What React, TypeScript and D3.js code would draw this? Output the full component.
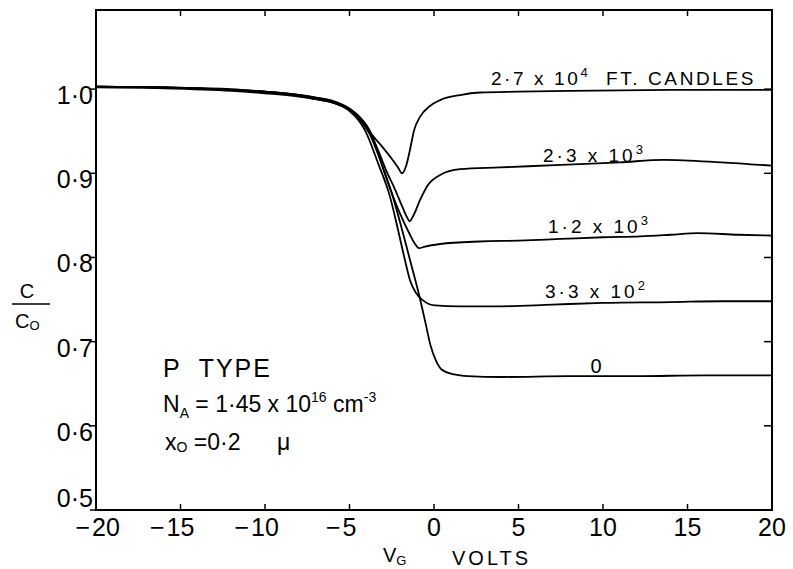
import React from 'react';
import * as d3 from 'd3';

// C/Co vs gate voltage, MOS capacitor under illumination
const xTicks = [-20, -15, -10, -5, 0, 5, 10, 15, 20];
const yTicks = [0.5, 0.6, 0.7, 0.8, 0.9, 1.0];

const dark: [number, number][] = [
  [-20, 1.002], [-16, 1.001], [-12, 0.998], [-10, 0.995], [-8, 0.991], [-7, 0.988],
  [-6, 0.984], [-5, 0.975], [-4.5, 0.966], [-4.0, 0.953], [-3.5, 0.936], [-3.14, 0.914],
  [-2.43, 0.872], [-1.89, 0.833], [-1.42, 0.797], [-0.95, 0.761], [-0.5, 0.722],
  [-0.2, 0.695], [0.15, 0.676], [0.45, 0.667], [1.2, 0.661], [2, 0.659], [4, 0.658],
  [8, 0.659], [12, 0.659], [16, 0.66], [20, 0.66],
];

const light330: [number, number][] = [
  [-20, 1.003], [-16, 1.002], [-12, 0.999], [-10, 0.996], [-8, 0.992], [-7, 0.988],
  [-6, 0.984], [-5, 0.974], [-4.5, 0.964], [-4.08, 0.951], [-3.31, 0.912], [-2.6, 0.872],
  [-2.13, 0.833], [-1.72, 0.797], [-1.42, 0.773], [-1.07, 0.758], [-0.65, 0.749],
  [0.06, 0.743], [1.5, 0.742], [4, 0.742], [7, 0.744], [10, 0.746], [14, 0.747],
  [17, 0.748], [20, 0.748],
];

const light1200: [number, number][] = [
  [-20, 1.003], [-16, 1.002], [-12, 0.999], [-10, 0.997], [-8, 0.993], [-7, 0.989],
  [-6, 0.985], [-5, 0.976], [-4.5, 0.967], [-4.0, 0.955], [-3.3, 0.922], [-2.6, 0.882],
  [-2.01, 0.852], [-1.42, 0.827], [-1.12, 0.816], [-0.89, 0.811], [-0.53, 0.813],
  [0.36, 0.816], [2.7, 0.819], [5, 0.82], [7.5, 0.822], [10, 0.824], [12.2, 0.825],
  [14, 0.827], [15.6, 0.829], [18, 0.827], [20, 0.826],
];

const light2300: [number, number][] = [
  [-20, 1.003], [-16, 1.002], [-12, 0.999], [-10, 0.997], [-8, 0.993], [-7, 0.99],
  [-6, 0.985], [-5, 0.976], [-4.5, 0.968], [-4.0, 0.957], [-3.3, 0.927], [-2.8, 0.902],
  [-2.31, 0.881], [-1.89, 0.861], [-1.6, 0.848], [-1.45, 0.843], [-1.24, 0.849],
  [-0.83, 0.868], [-0.36, 0.886], [0.36, 0.898], [1.54, 0.905], [3.9, 0.907],
  [7.5, 0.91], [11, 0.913], [13.6, 0.916], [17, 0.913], [20, 0.909],
];

const light27000: [number, number][] = [
  [-20, 1.003], [-16, 1.002], [-12, 1.0], [-10, 0.997], [-8, 0.993], [-7, 0.99],
  [-6, 0.986], [-5, 0.977], [-4.5, 0.969], [-4.0, 0.957], [-3.67, 0.946], [-3.08, 0.932],
  [-2.49, 0.917], [-2.13, 0.907], [-1.89, 0.9], [-1.66, 0.908], [-1.42, 0.928],
  [-1.18, 0.951], [-0.83, 0.967], [-0.24, 0.98], [0.36, 0.987], [1.54, 0.993],
  [2.72, 0.996], [5, 0.997], [8, 0.998], [14, 0.999], [20, 0.999],
];

const curves = [dark, light330, light1200, light2300, light27000];

const W = 793;
const H = 569;
const font = '"Liberation Sans", Arial, sans-serif';

export default function App() {
  const x = d3.scaleLinear().domain([-20, 20]).range([96, 772]);
  const y = d3.scaleLinear().domain([0.5, 1.094]).range([510, 10]);

  const line = d3
    .line<[number, number]>()
    .x(d => x(d[0]))
    .y(d => y(d[1]))
    .curve(d3.curveMonotoneX);

  const left = x(-20);
  const right = x(20);
  const top = y(1.094);
  const bottom = y(0.5);

  const fmtY = (v: number) => v.toFixed(1).replace('.', '·');

  return (
    <svg
      width={W}
      height={H}
      style={{ position: 'absolute', left: 0, top: 0, background: '#fff' }}
      fontFamily={font}
    >
      <rect x={0} y={0} width={W} height={H} fill="#fff" />

      {/* curves */}
      {curves.map((c, i) => (
        <path key={i} d={line(c) || ''} fill="none" stroke="#000" strokeWidth={1.8} />
      ))}

      {/* frame */}
      <rect
        x={left}
        y={top}
        width={right - left}
        height={bottom - top}
        fill="none"
        stroke="#000"
        strokeWidth={2}
      />

      {/* ticks */}
      {xTicks.map(t => (
        <g key={'xt' + t}>
          <line x1={x(t)} x2={x(t)} y1={bottom} y2={bottom - 6} stroke="#000" strokeWidth={1.5} />
          <line x1={x(t)} x2={x(t)} y1={top} y2={top + 6} stroke="#000" strokeWidth={1.5} />
        </g>
      ))}
      {yTicks.map(t => (
        <g key={'yt' + t}>
          <line x1={left} x2={left - 6} y1={y(t)} y2={y(t)} stroke="#000" strokeWidth={1.5} />
          <line x1={right} x2={right - 8} y1={y(t)} y2={y(t)} stroke="#000" strokeWidth={1.5} />
        </g>
      ))}

      {/* y tick labels (0.5 sits up against the corner) */}
      {yTicks.map(t => (
        <text
          key={'yl' + t}
          x={left - 3}
          y={t === 0.5 ? y(t) - 3 : y(t) + 15}
          fontSize={25}
          textAnchor="end"
        >
          {fmtY(t)}
        </text>
      ))}

      {/* x tick labels: digits centred on tick, minus hanging left */}
      {xTicks.map(t => {
        const shift = t === -20 ? 10 : 0;
        const digits = String(Math.abs(t));
        const half = (digits.length * 0.556 * 25) / 2;
        return (
          <g key={'xl' + t}>
            <text x={x(t) + shift} y={536} fontSize={25} textAnchor="middle">
              {digits}
            </text>
            {t < 0 && (
              <text x={x(t) + shift - half - 2} y={536} fontSize={25} textAnchor="end">
                −
              </text>
            )}
          </g>
        );
      })}

      {/* x axis title */}
      <text x={383} y={562} fontSize={20}>
        V<tspan fontSize={13} dy={3}>G</tspan>
      </text>
      <text x={452} y={565} fontSize={20} letterSpacing={3}>
        VOLTS
      </text>

      {/* y axis title C/Co */}
      <text x={27} y={298} fontSize={20} textAnchor="middle">C</text>
      <line x1={12} x2={50} y1={304} y2={304} stroke="#000" strokeWidth={1.5} />
      <text x={15} y={328} fontSize={20}>
        C<tspan fontSize={13} dy={2}>O</tspan>
      </text>

      {/* curve labels */}
      <text x={756} y={85} fontSize={19} letterSpacing={2.6} textAnchor="end" style={{ whiteSpace: 'pre' }}>
        2·7 x 10<tspan fontSize={13} dy={-8}>4</tspan>
        <tspan dy={8}>  FT. CANDLES</tspan>
      </text>
      <text x={543} y={162} fontSize={19} letterSpacing={3} style={{ whiteSpace: 'pre' }}>
        2·3 x 10<tspan fontSize={13} dy={-8}>3</tspan>
      </text>
      <text x={548} y={233} fontSize={19} letterSpacing={3} style={{ whiteSpace: 'pre' }}>
        1·2 x 10<tspan fontSize={13} dy={-8}>3</tspan>
      </text>
      <text x={545} y={298} fontSize={19} letterSpacing={3} style={{ whiteSpace: 'pre' }}>
        3·3 x 10<tspan fontSize={13} dy={-8}>2</tspan>
      </text>
      <text x={596} y={373} fontSize={20} textAnchor="middle">0</text>

      {/* sample annotation */}
      <text x={163} y={377} fontSize={25} letterSpacing={2} style={{ whiteSpace: 'pre' }}>
        P  TYPE
      </text>
      <text x={163} y={412} fontSize={23} style={{ whiteSpace: 'pre' }}>
        N<tspan fontSize={14} dy={6}>A</tspan>
        <tspan dy={-6}> = 1·45 x 10</tspan>
        <tspan fontSize={14} dy={-10}>16</tspan>
        <tspan dy={10}> cm</tspan>
        <tspan fontSize={14} dy={-10}>-3</tspan>
      </text>
      <text x={165} y={450} fontSize={23} style={{ whiteSpace: 'pre' }}>
        x<tspan fontSize={14} dy={2}>O</tspan>
        <tspan dy={-2}> =0·2</tspan>
        <tspan x={277}>μ</tspan>
      </text>
    </svg>
  );
}
